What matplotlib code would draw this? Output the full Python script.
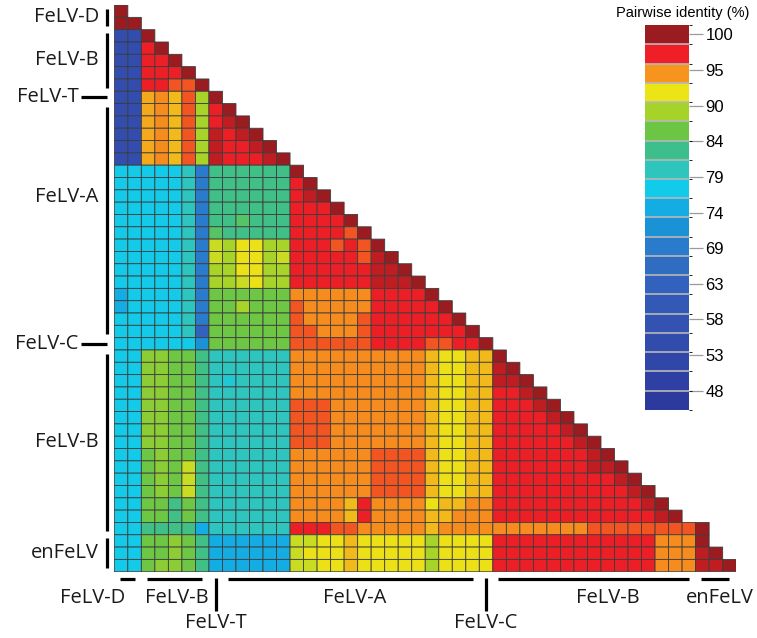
import numpy as np
import matplotlib.pyplot as plt
from matplotlib.colors import ListedColormap, BoundaryNorm, LinearSegmentedColormap
from matplotlib.cm import ScalarMappable

# colour bins of the legend, lowest identity first
bin_colors = ['#2b3a9c', '#2e40a3', '#3046a8', '#324cad', '#3452b2', '#3359b7',
              '#3262bd', '#2f6dc3', '#2a7bcb', '#1c92d6', '#14ade3', '#12cbea',
              '#2ec5bd', '#3dbf8c', '#6cc644', '#a6d32a', '#ebe417', '#f7941d',
              '#ee1f26', '#9b1c20']
vmin, vmax = 44.66, 101.37

tick_values = [100, 94.75, 89.5, 84.25, 79, 73.75, 68.5, 63.25, 58, 52.75, 47.5]
tick_labels = ['100', '95', '90', '84', '79', '74', '69', '63', '58', '53', '48']

# pairwise identity (%), one letter per cell
levels = {'D': 100.0, 'd': 98.5, 'R': 97.1, 'r': 95.7, 'O': 94.3, 'p': 93.6,
          'o': 92.9, 'Y': 91.5, 'y': 90.0, 'L': 88.6, 'l': 87.3, 'G': 85.8,
          'g': 84.4, 'T': 83.0, 'Q': 80.1, 'q': 78.7, 'C': 77.3, 'S': 74.5,
          'U': 71.6, 'V': 68.8, 'X': 63.1, 'B': 55.0}

rows = [
    "D",
    "DD",
    "BBD",
    "BBRD",
    "BBRRD",
    "BBRRRD",
    "BBRRrrD",
    "BBpOorLD",
    "BBpOorLRD",
    "BBpOorLRdD",
    "BBpOorLdRdD",
    "BBpOorLdRRdD",
    "BBpOorLdRRRdD",
    "CCCCCQVTTTTTTD",
    "CCCCCQVTTTTTTRD",
    "CCCCCQVTTTTTTRdD",
    "CCCCCQVTTTTTTRRRD",
    "CCCCCQVTTgTTTRRRRD",
    "CCCCCQVgTTTTTRRRRrD",
    "CCCCCQVyLYYLLRRRrRrD",
    "CCCCCQVyLYYLyRRRRRrdD",
    "CCCCCQVLLYYLLRRRRRRddD",
    "CCCCCQVLLyYLLRRRRRRdddD",
    "SCCCCQVGGGGGGOOOOOORRRRD",
    "SCCCCQVGGLGGGrOOOOORRRRRD",
    "CCCCCQVGGGGGGrOOOOrRRRRRRD",
    "CCCCCQXGGGGGGrrOOOrRRRRRRRD",
    "CCCCCCUGGGGGGrrrrrrRRRRrrRRD",
    "CCllGGTQQQQQQOOOOOOOOOOoYYooD",
    "CCllGGTQQQQQQOOOOOOOOOOoYYoodD",
    "CCllGGTQqQQQQOOOOOOOOOOoYYooddD",
    "CCllGGTQQQQQQOOOOOOOOOOoYYooRRdD",
    "CCllGGTQQQQQQrrrOOOOOOOoYYooRRRdD",
    "CCllGGTQQQQQQrrrOOOOOOOoYYooRRRRdD",
    "CCllGGTQQQQQQrrrOOOOOOOoYYooRRRRRdD",
    "CCllGGTQQQQQQrrrOOOOOOOoYYooRRRRRRdD",
    "CCGlGGTQQQQQQOOOOOOrrrroYYooRRRRRRRdD",
    "CCGlGyTQQQQQQOOOOOOrrrroYYooRRRRRRRddD",
    "CCGlGyTQQQQQQOOOOOOrrrroYYooRRRRRRRRRdD",
    "CCGlGyTQQQQQQOOOOOOrrrroYYooRRRRRRRRRRdD",
    "CCGGTGTQQQQQQOOOOoROOOOYooOORRRRRRRRRRRdD",
    "CCGGTGTQQQQQQOOOOoROOOOooOOORRRRRRRRRRRRdD",
    "CCTTTTSQQQQQQRRRrrOOOOOoOOOOOOOOOOOrrrrrrrrD",
    "CCGGlGTSSSSSSyyYYoYYYYYLYYYYRRRRRRRRRRRROOOD",
    "CCGGlGTSSSSSSyYYYoYYYYYLYYYYRRRRRRRRRRRROOOdD",
    "CCGllGTSSSSSSyyYYoYYYYYLYYYYRRRRRRRRRRRROOOddD",
]

# (label, first index, last index + 1)
groups = [("FeLV-D", 0, 2), ("FeLV-B", 2, 7), ("FeLV-T", 7, 8), ("FeLV-A", 8, 27),
          ("FeLV-C", 27, 28), ("FeLV-B", 28, 43), ("enFeLV", 43, 46)]
left_shift = [0, 0, 0, -1.9, 0, 0, 0]
bottom_shift = [-2.6, 0.1, 0, 0.3, 0, 1.0, 0.3]

n = len(rows)
M = np.full((n, n), np.nan)
for i, row in enumerate(rows):
    for j, ch in enumerate(row):
        M[i, j] = levels[ch]
M = np.ma.masked_invalid(M)

pos = [(k + 0.5) / 20 for k in range(20)]
cmap = LinearSegmentedColormap.from_list(
    'pid', list(zip([0] + pos + [1], [bin_colors[0]] + bin_colors + [bin_colors[-1]])))

fig = plt.figure(figsize=(7.57, 6.38), dpi=100)
ax = fig.add_axes([0.1510, 0.1039, 0.8215, 0.8882])
# pcolor skips masked cells, so the empty upper triangle gets no grid
ax.pcolor(np.arange(n + 1), np.arange(n + 1), M, cmap=cmap, vmin=vmin, vmax=vmax,
          edgecolors='#3c3c3c', linewidth=0.6)
ax.set_xlim(0, n)
ax.set_ylim(n, 0)
ax.axis('off')

lab_font = dict(family=['Open Sans', 'DejaVu Sans'], fontsize=14.5, color='#1a1a1a')
lw = 2.3
for k, (name, a, b) in enumerate(groups):
    # left side
    yc = (a + b) / 2
    if b - a == 1:
        ax.plot([-2.5, -0.55], [yc, yc], color='k', lw=lw, clip_on=False, solid_capstyle='butt')
        ax.text(-2.65, yc, name, ha='right', va='center', **lab_font)
    else:
        ax.plot([-0.55, -0.55], [a + 0.3, b - 0.3], color='k', lw=lw, clip_on=False,
                solid_capstyle='butt')
        ax.text(-1.15, yc + left_shift[k], name, ha='right', va='center', **lab_font)
    # bottom side
    if b - a == 1:
        ax.plot([yc, yc], [46.55, 49.2], color='k', lw=lw, clip_on=False, solid_capstyle='butt')
        ax.text(yc, 50.2, name, ha='center', va='center', **lab_font)
    else:
        ax.plot([a + 0.4, b - 0.5], [46.6, 46.6], color='k', lw=lw, clip_on=False,
                solid_capstyle='butt')
        ax.text(yc + bottom_shift[k], 48.1, name, ha='center', va='center', **lab_font)

# legend
cax = fig.add_axes([0.8520, 0.3574, 0.0581, 0.6034])
sm = ScalarMappable(norm=BoundaryNorm(np.linspace(vmin, vmax, 21), 20),
                    cmap=ListedColormap(bin_colors))
cb = fig.colorbar(sm, cax=cax, drawedges=True, ticks=tick_values)
cb.set_ticklabels(tick_labels)
cb.outline.set_visible(False)
cb.dividers.set_color('#b8b8b8')
cb.dividers.set_linewidth(1.2)
cax.tick_params(length=10, width=0.9, color='#9a9a9a', pad=2)
for t in cax.get_yticklabels():
    t.set_family(['Liberation Sans', 'DejaVu Sans'])
    t.set_fontsize(12)
fig.text(683 / 757, 1 - 13 / 638, 'Pairwise identity (%)', ha='center', va='center',
         family=['Liberation Sans', 'DejaVu Sans'], fontsize=10.5)

fig.savefig('out.png', dpi=100)
